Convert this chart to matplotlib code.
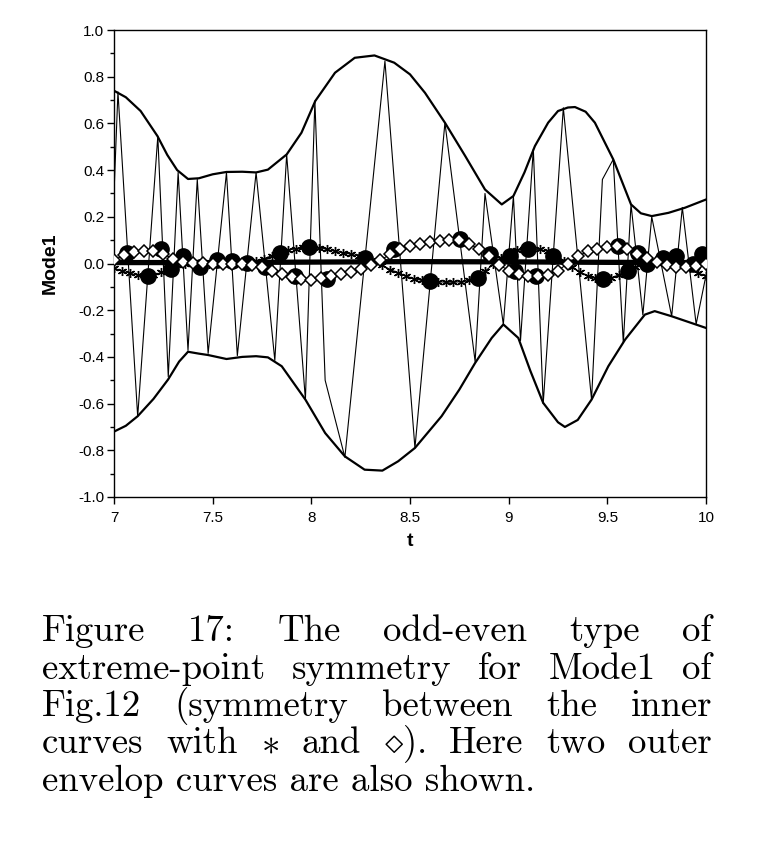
import numpy as np
import matplotlib
matplotlib.use("Agg")
import matplotlib.pyplot as plt
from matplotlib.ticker import FixedLocator, FixedFormatter, MultipleLocator

# thin oscillating Mode1 signal (vertices)
sig_t = [7.000, 7.020, 7.120, 7.222, 7.275, 7.325, 7.375, 7.422, 7.477, 7.570,
         7.625, 7.720, 7.815, 7.875, 7.970, 8.018, 8.070, 8.170, 8.373, 8.525,
         8.677, 8.830, 8.880, 8.973, 9.024, 9.060, 9.125, 9.175, 9.277, 9.420,
         9.475, 9.530, 9.581, 9.620, 9.680, 9.725, 9.826, 9.880, 9.950, 10.000]
sig_v = [0.30, 0.735, -0.655, 0.545, -0.485, 0.390, -0.372, 0.360, -0.385, 0.390,
         -0.395, 0.390, -0.415, 0.467, -0.583, 0.696, -0.500, -0.830, 0.867, -0.790,
         0.603, -0.420, 0.300, -0.261, 0.289, -0.330, 0.490, -0.600, 0.667, -0.583,
         0.360, 0.446, -0.340, 0.253, -0.220, 0.200, -0.226, 0.240, -0.260, -0.050]

# outer envelopes
up_t = [7.00, 7.06, 7.135, 7.22, 7.27, 7.32, 7.375, 7.43, 7.50, 7.57, 7.65, 7.72,
        7.78, 7.875, 7.95, 8.02, 8.12, 8.22, 8.32, 8.42, 8.50, 8.576, 8.677, 8.78,
        8.88, 8.965, 9.024, 9.08, 9.133, 9.20, 9.25, 9.30, 9.336, 9.39, 9.437,
        9.53, 9.62, 9.67, 9.725, 9.81, 9.894, 10.00]
up_v = [0.740, 0.712, 0.653, 0.546, 0.465, 0.400, 0.362, 0.365, 0.382, 0.392,
        0.393, 0.390, 0.402, 0.467, 0.560, 0.696, 0.817, 0.881, 0.891, 0.860,
        0.810, 0.731, 0.603, 0.460, 0.317, 0.253, 0.289, 0.390, 0.503, 0.603,
        0.653, 0.668, 0.670, 0.650, 0.603, 0.446, 0.253, 0.215, 0.203, 0.217,
        0.239, 0.274]
lo_t = [7.00, 7.06, 7.12, 7.20, 7.274, 7.33, 7.375, 7.43, 7.477, 7.57, 7.65, 7.72,
        7.78, 7.85, 7.97, 8.07, 8.17, 8.27, 8.36, 8.44, 8.525, 8.66, 8.75, 8.83,
        8.914, 8.973, 9.049, 9.11, 9.175, 9.25, 9.285, 9.35, 9.42, 9.505, 9.59,
        9.69, 9.74, 9.826, 10.00]
lo_v = [-0.720, -0.695, -0.654, -0.580, -0.497, -0.420, -0.378, -0.386, -0.392,
        -0.409, -0.400, -0.397, -0.402, -0.440, -0.583, -0.726, -0.826, -0.883,
        -0.887, -0.847, -0.790, -0.654, -0.540, -0.426, -0.319, -0.261, -0.319,
        -0.460, -0.597, -0.680, -0.700, -0.670, -0.583, -0.440, -0.326, -0.219,
        -0.204, -0.226, -0.276]

# thick mean line
mean_t = [7.0, 7.5, 8.0, 8.5, 9.0, 9.5, 10.0]
mean_v = [0.004, 0.004, 0.006, 0.008, 0.007, 0.005, 0.004]

# inner curve with *
star_t = np.linspace(7.0, 10.0, 76)
star_v = [-0.020, -0.032, -0.042, -0.050, -0.055, -0.050, -0.038, -0.022, -0.008, 0.000,
          -0.004, -0.006, -0.002, 0.002, 0.002, 0.000, 0.002, 0.004, 0.010, 0.020,
          0.034, 0.046, 0.056, 0.064, 0.070, 0.072, 0.068, 0.060, 0.052, 0.046,
          0.040, 0.032, 0.022, 0.008, -0.008, -0.026, -0.040, -0.054, -0.065, -0.072,
          -0.076, -0.078, -0.080, -0.080, -0.078, -0.072, -0.058, -0.034, -0.004, 0.024,
          0.044, 0.056, 0.063, 0.064, 0.060, 0.052, 0.036, 0.012, -0.016, -0.036,
          -0.052, -0.062, -0.068, -0.062, -0.048, -0.030, -0.014, -0.002, 0.008, 0.014,
          0.016, 0.012, 0.000, -0.020, -0.040, -0.055]

# inner curve with diamonds
dia_t = np.linspace(7.0, 10.0, 61)
dia_v = [0.015, 0.035, 0.048, 0.054, 0.052, 0.040, 0.020, 0.005, 0.002, 0.004,
         0.000, -0.002, 0.000, -0.002, -0.006, -0.016, -0.030, -0.046, -0.058, -0.066,
         -0.070, -0.064, -0.054, -0.046, -0.036, -0.024, -0.006, 0.014, 0.040, 0.060,
         0.074, 0.084, 0.092, 0.098, 0.102, 0.100, 0.085, 0.060, 0.030, -0.005,
         -0.030, -0.045, -0.052, -0.054, -0.048, -0.030, 0.000, 0.030, 0.052, 0.064,
         0.072, 0.074, 0.062, 0.042, 0.022, 0.006, -0.006, -0.014, -0.016, -0.010,
         0.000]

# extreme points (filled circles)
ext_t = [7.064, 7.174, 7.24, 7.29, 7.35, 7.436, 7.52, 7.596, 7.672, 7.765, 7.84,
         7.917, 7.99, 8.08, 8.27, 8.42, 8.60, 8.753, 8.846, 8.905, 9.007, 9.03,
         9.10, 9.14, 9.226, 9.48, 9.556, 9.606, 9.657, 9.70, 9.784, 9.85, 9.936,
         9.978]
ext_v = [0.047, -0.054, 0.062, -0.024, 0.031, -0.017, 0.017, 0.010, 0.004, -0.015,
         0.046, -0.054, 0.070, -0.065, 0.024, 0.060, -0.076, 0.103, -0.061, 0.039,
         0.031, -0.033, 0.062, -0.054, 0.031, -0.068, 0.074, -0.033, 0.046, -0.004,
         0.024, 0.031, -0.004, 0.039]

ytick_vals = [-1.0, -0.8, -0.6, -0.4, -0.2, 0.0, 0.2, 0.4, 0.6, 0.8, 1.0]
ytick_labels = ["-1.0", "-0.8", "-0.6", "-0.4", "-0.2", "0.0", "0.2", "0.4", "0.6", "0.8", "1.0"]
xtick_vals = [7, 7.5, 8, 8.5, 9, 9.5, 10]
xtick_labels = ["7", "7.5", "8", "8.5", "9", "9.5", "10"]

caption = [
    ["Figure", "17:", "The", "odd-even", "type", "of"],
    ["extreme-point", "symmetry", "for", "Mode1", "of"],
    ["Fig.12", "(symmetry", "between", "the", "inner"],
    ["curves", "with", r"$\ast$", "and", r"$\diamond$).", "Here", "two", "outer"],
]
caption_last = "envelop curves are also shown."

plt.rcParams["font.family"] = ["Liberation Sans", "DejaVu Sans"]
plt.rcParams["mathtext.fontset"] = "cm"

W, H = 772, 851
fig = plt.figure(figsize=(W / 100, H / 100), dpi=100)
ax = fig.add_axes([114 / W, 1 - 497 / H, 592 / W, 467 / H])

ax.plot(sig_t, sig_v, color="black", lw=0.8, zorder=2)
ax.plot(up_t, up_v, color="black", lw=1.6, zorder=3)
ax.plot(lo_t, lo_v, color="black", lw=1.6, zorder=3)
ax.plot(mean_t, mean_v, color="black", lw=3.8, zorder=4)
ax.plot(star_t, star_v, color="black", lw=0.8, marker=(6, 2, 0), ms=6.5, mew=1.0, zorder=5)
ax.plot(ext_t, ext_v, ls="none", marker="o", ms=11, color="black", zorder=6)
ax.plot(dia_t, dia_v, color="black", lw=0.8, marker="D", ms=6.5, mfc="white",
        mec="black", mew=1.1, zorder=7)

ax.set_xlim(7, 10)
ax.set_ylim(-1, 1)
ax.xaxis.set_major_locator(FixedLocator(xtick_vals))
ax.xaxis.set_major_formatter(FixedFormatter(xtick_labels))
ax.yaxis.set_major_locator(FixedLocator(ytick_vals))
ax.yaxis.set_major_formatter(FixedFormatter(ytick_labels))
ax.yaxis.set_minor_locator(MultipleLocator(0.1))
ax.tick_params(axis="both", which="major", direction="out", length=5, width=1,
               labelsize=11, top=False, right=False)
ax.tick_params(axis="x", which="major", pad=5)
ax.tick_params(axis="y", which="major", pad=2)
ax.tick_params(axis="y", which="minor", direction="out", length=3, width=1)
for s in ax.spines.values():
    s.set_linewidth(1.0)
ax.set_xlabel("t", fontsize=14, fontweight="bold", labelpad=6)
ax.set_ylabel("Mode1", fontsize=14, fontweight="bold", labelpad=14)

# justified caption in Computer Modern
cap_left, cap_right = 42, 712
baselines = [641, 679, 716, 753, 791]
cap_size = 26.5
fig.canvas.draw()
renderer = fig.canvas.get_renderer()
for line, by in zip(caption, baselines[:4]):
    texts = [fig.text(0, 1 - by / H, w, family="cmr10", fontsize=cap_size, va="baseline")
             for w in line]
    widths = [t.get_window_extent(renderer).width for t in texts]
    gap = (cap_right - cap_left - sum(widths)) / (len(texts) - 1)
    x = cap_left
    for t, w in zip(texts, widths):
        t.set_x(x / W)
        x += w + gap
fig.text(cap_left / W, 1 - baselines[4] / H, caption_last, family="cmr10",
         fontsize=cap_size, va="baseline")

fig.savefig("out.png", dpi=100)
